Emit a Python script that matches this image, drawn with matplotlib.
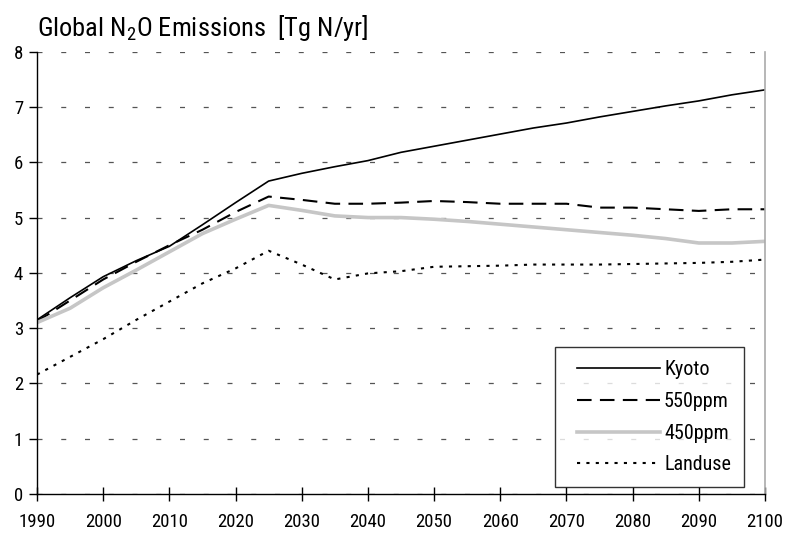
import matplotlib
matplotlib.use("Agg")
import matplotlib.pyplot as plt
from matplotlib.legend_handler import HandlerLine2D
from matplotlib.lines import Line2D

years = list(range(1990, 2101, 5))
kyoto = [3.15, 3.55, 3.93, 4.22, 4.48, 4.87, 5.27, 5.66, 5.80, 5.92, 6.03, 6.18, 6.29, 6.40, 6.51, 6.62, 6.71, 6.82, 6.92, 7.02, 7.11, 7.22, 7.31]
ppm550 = [3.12, 3.50, 3.88, 4.20, 4.50, 4.78, 5.10, 5.38, 5.32, 5.25, 5.25, 5.27, 5.30, 5.28, 5.25, 5.25, 5.25, 5.18, 5.18, 5.15, 5.12, 5.15, 5.15]
ppm450 = [3.10, 3.36, 3.73, 4.05, 4.38, 4.71, 4.97, 5.22, 5.13, 5.03, 5.00, 5.00, 4.97, 4.93, 4.88, 4.83, 4.78, 4.73, 4.68, 4.62, 4.54, 4.54, 4.57]
landuse = [2.16, 2.48, 2.80, 3.15, 3.48, 3.81, 4.08, 4.40, 4.15, 3.88, 3.99, 4.03, 4.11, 4.12, 4.13, 4.15, 4.15, 4.15, 4.16, 4.17, 4.18, 4.20, 4.24]
labels = ["Kyoto", "550ppm", "450ppm", "Landuse"]
xticks = list(range(1990, 2101, 10))
yticks = list(range(0, 9))

fam = 'Roboto Condensed'
plt.rcParams['font.family'] = [fam, 'DejaVu Sans']
plt.rcParams['mathtext.fontset'] = 'custom'
plt.rcParams['mathtext.rm'] = fam

fig = plt.figure(figsize=(7.86, 5.33), dpi=100)
ax = fig.add_axes([37/786, 39/533, (765-37)/786, (494-51.7)/533])

ax.plot(years, kyoto, color='black', lw=1.2, label=labels[0])
ax.plot(years, ppm550, color='black', lw=1.5, dashes=(7, 4), label=labels[1])
ax.plot(years, ppm450, color='#c6c6c6', lw=2.6, label=labels[2])
ax.plot(years, landuse, color='black', lw=1.5, dashes=(1.5, 3), label=labels[3])

ax.set_xlim(1990, 2100)
ax.set_ylim(0, 8)
ax.set_xticks(xticks)
ax.set_yticks(yticks)
ax.tick_params(axis='x', direction='inout', length=10, width=1, labelsize=13.5, pad=9)
ax.tick_params(axis='y', direction='out', length=6, width=1, labelsize=13.5, pad=4)
ax.yaxis.grid(True, color='#555555', lw=0.9, dashes=(4, 15))
ax.set_axisbelow(True)
ax.spines['top'].set_visible(False)
ax.spines['right'].set_color('#aaaaaa')
ax.spines['right'].set_linewidth(1.2)
ax.spines['left'].set_linewidth(1)
ax.spines['bottom'].set_linewidth(1)

leg = ax.legend(loc='lower right', bbox_to_anchor=((744 - 37) / (765 - 37), 0.015), bbox_transform=ax.transAxes,
                frameon=True, fancybox=False,
                edgecolor='black', fontsize=14.5, handlelength=4.55, handletextpad=0.2,
                borderpad=0.65, labelspacing=0.63, borderaxespad=0,
                handler_map={Line2D: HandlerLine2D(xpad=0.45)})
leg.get_frame().set_linewidth(1)

fig.text(37/786, 1 - 36/533, r"Global N$_{\mathregular{2}}$O Emissions  [Tg N/yr]", fontsize=19, ha='left', va='baseline')

fig.savefig("out.png", dpi=100)
